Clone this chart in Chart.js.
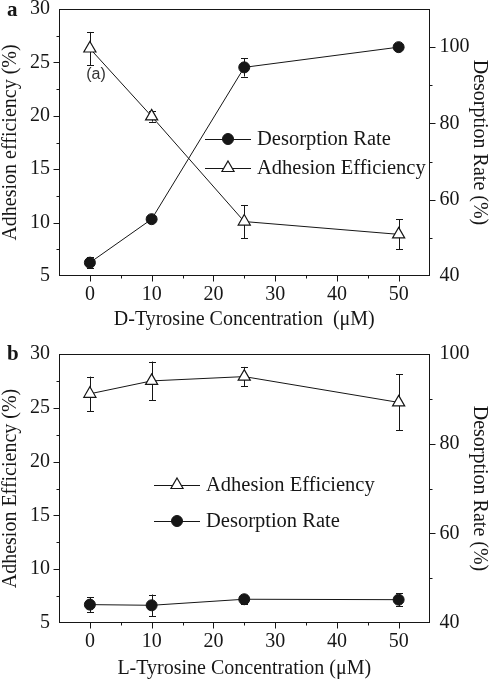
<!DOCTYPE html>
<html>
<head>
<meta charset="utf-8">
<script src="https://cdn.jsdelivr.net/npm/chart.js@4.4.0/dist/chart.umd.min.js"></script>
<style>
  html, body { margin: 0; padding: 0; background: #fff; }
  canvas { display: block; }
</style>
</head>
<body>
<canvas id="chartA" width="491" height="340"></canvas>
<canvas id="chartB" width="491" height="341"></canvas>
<script>
// values
const concentration = [0, 10, 25, 50];
const adhesionD = [26.3, 19.95, 10.1, 8.9];
const adhesionDErr = [1.55, 0.5, 1.55, 1.4];
const desorptionD = [43.5, 54.9, 94.7, 100];
const desorptionDErr = [1.5, 0.8, 2.4, 0.3];
const adhesionL = [26.3, 27.5, 27.9, 25.5];
const adhesionLErr = [1.6, 1.8, 0.9, 2.6];
const desorptionL = [44.1, 43.95, 45.3, 45.2];
const desorptionLErr = [1.7, 2.4, 1.0, 1.4];
const xTicks = [0, 10, 20, 30, 40, 50];
const leftTicks = [5, 10, 15, 20, 25, 30];
const rightTicks = [40, 60, 80, 100];

const INK = '#161616';
const SERIF = "'Liberation Serif', 'Times New Roman', serif";

function pts(xs, ys) {
  return xs.map((x, i) => ({ x: x, y: ys[i] }));
}
function inList(list, v) {
  return list.some(t => Math.abs(t - v) < 1e-6);
}

function markerPath(ctx, style, x, y, r) {
  ctx.beginPath();
  if (style === 'triangle') {
    ctx.moveTo(x, y - r);
    ctx.lineTo(x + 0.866 * r, y + r / 2);
    ctx.lineTo(x - 0.866 * r, y + r / 2);
    ctx.closePath();
  } else {
    ctx.arc(x, y, r, 0, Math.PI * 2);
  }
}

// box + outward ticks (long for labelled, short for minor)
const frameTicks = {
  id: 'frameTicks',
  afterDraw(chart) {
    const ctx = chart.ctx;
    const a = chart.chartArea;
    const L = Math.round(a.left) + 0.5, R = Math.round(a.right) - 0.5;
    const T = Math.round(a.top) + 0.5, B = Math.round(a.bottom) - 0.5;
    ctx.save();
    ctx.strokeStyle = INK;
    ctx.lineWidth = 1;
    ctx.strokeRect(L, T, R - L, B - T);
    ctx.beginPath();
    Object.values(chart.scales).forEach(s => {
      s.ticks.forEach(t => {
        if (t.value <= s.min || t.value >= s.max) return;
        const len = t.label !== '' ? 6 : 3;
        const p = Math.round(s.getPixelForValue(t.value)) + 0.5;
        if (s.axis === 'x') {
          ctx.moveTo(p, B); ctx.lineTo(p, B + len);
        } else if (s.position === 'left') {
          ctx.moveTo(L, p); ctx.lineTo(L - len, p);
        } else {
          ctx.moveTo(R, p); ctx.lineTo(R + len, p);
        }
      });
    });
    ctx.stroke();
    ctx.restore();
  }
};

const errorBars = {
  id: 'errorBars',
  beforeDatasetsDraw(chart) {
    const ctx = chart.ctx;
    ctx.save();
    ctx.strokeStyle = INK;
    ctx.lineWidth = 1;
    chart.data.datasets.forEach((ds, i) => {
      const meta = chart.getDatasetMeta(i);
      const ys = chart.scales[meta.yAxisID];
      meta.data.forEach((el, j) => {
        const v = ds.data[j].y, e = ds.errors[j];
        const x = Math.round(el.x) + 0.5;
        const hi = ys.getPixelForValue(v + e), lo = ys.getPixelForValue(v - e);
        ctx.beginPath();
        ctx.moveTo(x, hi); ctx.lineTo(x, lo);
        ctx.moveTo(x - 3.5, Math.round(hi) + 0.5); ctx.lineTo(x + 3.5, Math.round(hi) + 0.5);
        ctx.moveTo(x - 3.5, Math.round(lo) + 0.5); ctx.lineTo(x + 3.5, Math.round(lo) + 0.5);
        ctx.stroke();
      });
    });
    ctx.restore();
  }
};

const insetLegend = {
  id: 'insetLegend',
  afterDraw(chart, args, opts) {
    const ctx = chart.ctx;
    ctx.save();
    ctx.font = '20.5px ' + SERIF;
    ctx.textBaseline = 'middle';
    ctx.textAlign = 'left';
    opts.rows.forEach(row => {
      const ds = chart.data.datasets[row.dataset];
      ctx.strokeStyle = INK;
      ctx.lineWidth = 1;
      ctx.beginPath();
      ctx.moveTo(opts.x0, row.y + 0.5); ctx.lineTo(opts.x1, row.y + 0.5);
      ctx.stroke();
      markerPath(ctx, ds.pointStyle, opts.mx, row.y, ds.pointRadius);
      ctx.fillStyle = ds.pointBackgroundColor;
      ctx.fill();
      ctx.lineWidth = ds.pointBorderWidth;
      ctx.strokeStyle = ds.pointBorderColor;
      ctx.stroke();
      ctx.fillStyle = INK;
      ctx.fillText(ds.label, opts.tx, row.y + 1);
    });
    ctx.restore();
  }
};

const panelText = {
  id: 'panelText',
  afterDraw(chart, args, opts) {
    const ctx = chart.ctx;
    ctx.save();
    ctx.fillStyle = INK;
    ctx.textBaseline = 'middle';
    ctx.textAlign = 'left';
    ctx.font = 'bold 21px ' + SERIF;
    ctx.fillText(opts.panel, 7, opts.panelY);
    if (opts.note) {
      ctx.font = '16px "Liberation Sans", Arial, sans-serif';
      ctx.fillStyle = '#333';
      ctx.textAlign = 'center';
      const x = chart.scales.x.getPixelForValue(opts.note.x);
      const y = chart.scales.y.getPixelForValue(opts.note.y);
      ctx.fillText(opts.note.text, x, y);
    }
    ctx.restore();
  }
};

function makeChart(id, cfg) {
  const tickFont = { family: SERIF, size: 20, lineHeight: 1.2 };
  const titleFont = { family: SERIF, size: 20, lineHeight: 1.1 };
  return new Chart(document.getElementById(id), {
    type: 'scatter',
    data: {
      datasets: cfg.series.map(s => ({
        label: s.label,
        data: pts(concentration, s.values),
        errors: s.errors,
        yAxisID: s.axis,
        showLine: true,
        borderColor: INK,
        borderWidth: 1,
        pointStyle: s.style,
        pointRadius: s.style === 'triangle' ? 7 : 5.5,
        pointHoverRadius: s.style === 'triangle' ? 7 : 5.5,
        pointBackgroundColor: s.style === 'triangle' ? '#fff' : INK,
        pointBorderColor: INK,
        pointBorderWidth: s.style === 'triangle' ? 1.2 : 1
      }))
    },
    options: {
      responsive: false,
      animation: false,
      devicePixelRatio: 1,
      layout: { padding: { top: cfg.top, left: 0, right: 0, bottom: 0 } },
      plugins: {
        legend: { display: false },
        tooltip: { enabled: false },
        insetLegend: cfg.legend,
        panelText: cfg.text
      },
      scales: {
        x: {
          type: 'linear',
          min: -5, max: 55,
          grid: { display: false, drawTicks: false },
          border: { display: false },
          ticks: {
            stepSize: 5, autoSkip: false, maxRotation: 0, padding: 7,
            font: tickFont, color: INK,
            callback: v => inList(xTicks, v) ? String(v) : ''
          },
          title: { display: true, text: cfg.xTitle, font: titleFont, color: INK, padding: { top: 0, bottom: cfg.xTitlePad } },
          afterFit: s => { s.height = cfg.xHeight; s.paddingLeft = 0; s.paddingRight = 0; }
        },
        y: {
          position: 'left',
          min: 5, max: 30,
          grid: { display: false, drawTicks: false },
          border: { display: false },
          ticks: {
            stepSize: 2.5, autoSkip: false, padding: 9,
            font: tickFont, color: INK,
            callback: v => inList(leftTicks, v) ? String(v) : ''
          },
          title: { display: true, text: cfg.yTitle, font: titleFont, color: INK, padding: { top: 0, bottom: 0 } },
          afterFit: s => { s.width = 59; s.paddingTop = 0; s.paddingBottom = 0; }
        },
        y1: {
          position: 'right',
          min: 40, max: cfg.rightMax,
          grid: { display: false, drawTicks: false },
          border: { display: false },
          ticks: {
            stepSize: 10, autoSkip: false, padding: 10,
            font: tickFont, color: INK,
            callback: v => inList(rightTicks, v) ? String(v) : ''
          },
          title: { display: true, text: 'Desorption Rate (%)', font: titleFont, color: INK, padding: { top: 1, bottom: 0 } },
          afterFit: s => { s.width = 61.5; s.paddingTop = 0; s.paddingBottom = 0; }
        }
      }
    },
    plugins: [errorBars, frameTicks, insetLegend, panelText]
  });
}

makeChart('chartA', {
  series: [
    { label: 'Desorption Rate', values: desorptionD, errors: desorptionDErr, axis: 'y1', style: 'circle' },
    { label: 'Adhesion Efficiency', values: adhesionD, errors: adhesionDErr, axis: 'y', style: 'triangle' }
  ],
  top: 9, xHeight: 64, xTitlePad: 9, rightMax: 110,
  xTitle: 'D-Tyrosine Concentration  (\u03bcM)',
  yTitle: 'Adhesion efficiency (%)',
  legend: { x0: 205, x1: 251, mx: 228, tx: 257, rows: [{ dataset: 0, y: 139 }, { dataset: 1, y: 168 }] },
  text: { panel: 'a', panelY: 11, note: { text: '(a)', x: 1, y: 23.9 } }
});

makeChart('chartB', {
  series: [
    { label: 'Adhesion Efficiency', values: adhesionL, errors: adhesionLErr, axis: 'y', style: 'triangle' },
    { label: 'Desorption Rate', values: desorptionL, errors: desorptionLErr, axis: 'y1', style: 'circle' }
  ],
  top: 14, xHeight: 58, xTitlePad: 1, rightMax: 100,
  xTitle: 'L-Tyrosine Concentration (\u03bcM)',
  yTitle: 'Adhesion Efficiency (%)',
  legend: { x0: 154, x1: 200, mx: 177, tx: 206, rows: [{ dataset: 0, y: 145 }, { dataset: 1, y: 181 }] },
  text: { panel: 'b', panelY: 15 }
});
</script>
</body>
</html>
